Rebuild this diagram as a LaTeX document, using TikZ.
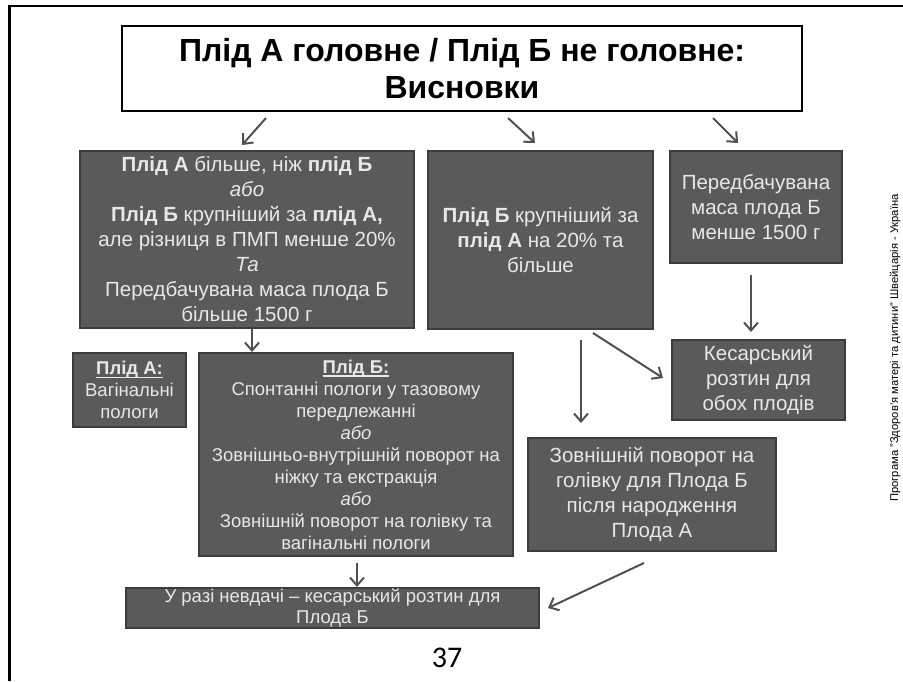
\documentclass[tikz,border=0pt]{standalone}
\usepackage{fontspec}
\setmainfont{Liberation Sans}
\newfontfamily\pagefont{Carlito}
\usetikzlibrary{arrows.meta}
\definecolor{boxgray}{HTML}{5A5A5A}
\definecolor{boxline}{HTML}{3C3C3C}
\definecolor{boxtext}{HTML}{E8E8E8}
\definecolor{arrgray}{HTML}{505050}
\newcommand\ulined[1]{\setbox0\hbox{#1}\rlap{\vrule height -2pt depth 3.5pt width \wd0}\box0}
\begin{document}
\begin{tikzpicture}[x=1pt,y=-1pt,
	box/.style={draw=boxline,line width=1.5pt,fill=boxgray,text=boxtext,align=center,inner sep=0pt},
	arr/.style={draw=arrgray,line width=2pt,-{Straight Barb[length=8pt,width=14pt]}},
	bigtext/.style={font=\fontsize{20.5}{25}\selectfont},
	smalltext/.style={font=\fontsize{18.5}{22}\selectfont}]
		\useasboundingbox (0,0) rectangle (903,681);
		% slide frame
		\draw[line width=2.5pt] (9.5,681) -- (9.5,6) -- (903,6);
		\node[draw,line width=2pt,minimum width=680pt,minimum height=85pt,align=center,font=\bfseries\fontsize{32}{37}\selectfont] (title) at (462,68.5) {Плід А головне / Плід Б не головне:\\Висновки};
		% conditions
		\node[box,bigtext,minimum width=334pt,minimum height=177pt] (condA) at (247,239.5) {\textbf{Плід А} більше, ніж \textbf{плід Б}\\\textit{або}\\\textbf{Плід Б} крупніший за \textbf{плід А,}\\але різниця в ПМП менше 20\%\\\textit{Та}\\Передбачувана маса плода Б\\більше 1500 г};
		\node[box,bigtext,minimum width=225pt,minimum height=178pt] (condB) at (540.5,240) {\textbf{Плід Б} крупніший за\\\textbf{плід А} на 20\% та\\більше};
		\node[box,bigtext,minimum width=172pt,minimum height=112pt] (light) at (756,207) {Передбачувана\\маса плода Б\\менше 1500 г};
		% outcomes
		\node[box,smalltext,minimum width=113pt,minimum height=74pt] (fetA) at (129.5,390) {\ulined{\textbf{Плід А:}}\\Вагінальні\\пологи};
		\node[box,smalltext,minimum width=314pt,minimum height=203pt] (fetB) at (356,454.5) {\ulined{\textbf{Плід Б:}}\\Спонтанні пологи у тазовому\\передлежанні\\\textit{або}\\Зовнішньо-внутрішній поворот на\\ніжку та екстракція\\\textit{або}\\Зовнішній поворот на голівку та\\вагінальні пологи};
		\node[box,bigtext,minimum width=173pt,minimum height=80pt] (cs) at (758.5,380) {Кесарський\\розтин для\\обох плодів};
		\node[box,bigtext,minimum width=248pt,minimum height=113pt] (ecv) at (652,494.5) {Зовнішній поворот на\\голівку для Плода Б\\після народження\\Плода А};
		\node[box,font=\fontsize{18.5}{21}\selectfont,minimum width=413pt,minimum height=40pt] (fail) at (332.5,608) {У разі невдачі – кесарський розтин для\\Плода Б};
		% arrow ends
		\coordinate (t1) at (266,118); \coordinate (t1e) at (242,145);
		\coordinate (t2) at (508,118); \coordinate (t2e) at (535,143);
		\coordinate (t3) at (713,118); \coordinate (t3e) at (738,143);
		\coordinate (a1) at (252,329); \coordinate (a1e) at (252,352);
		\coordinate (b1) at (581,340); \coordinate (b1e) at (581,423);
		\coordinate (b2) at (593,333); \coordinate (b2e) at (663,378);
		\coordinate (l1) at (751,275); \coordinate (l1e) at (751,332);
		\coordinate (f1) at (357,563); \coordinate (f1e) at (357,587);
		\coordinate (e1) at (644,563); \coordinate (e1e) at (548,608);
		\foreach \s in {t1,t2,t3,a1,b1,b2,l1,f1,e1}
		{
			\draw[arr] (\s) -- (\s e);
		}
		\node[font=\pagefont\fontsize{30}{30}\selectfont] (page) at (447,658) {37};
		\node[rotate=90,font=\fontsize{11.2}{12}\selectfont] (prog) at (895,348) {Програма "Здоров'я матері та дитини" Швейцарія - Україна};
\end{tikzpicture}
\end{document}
